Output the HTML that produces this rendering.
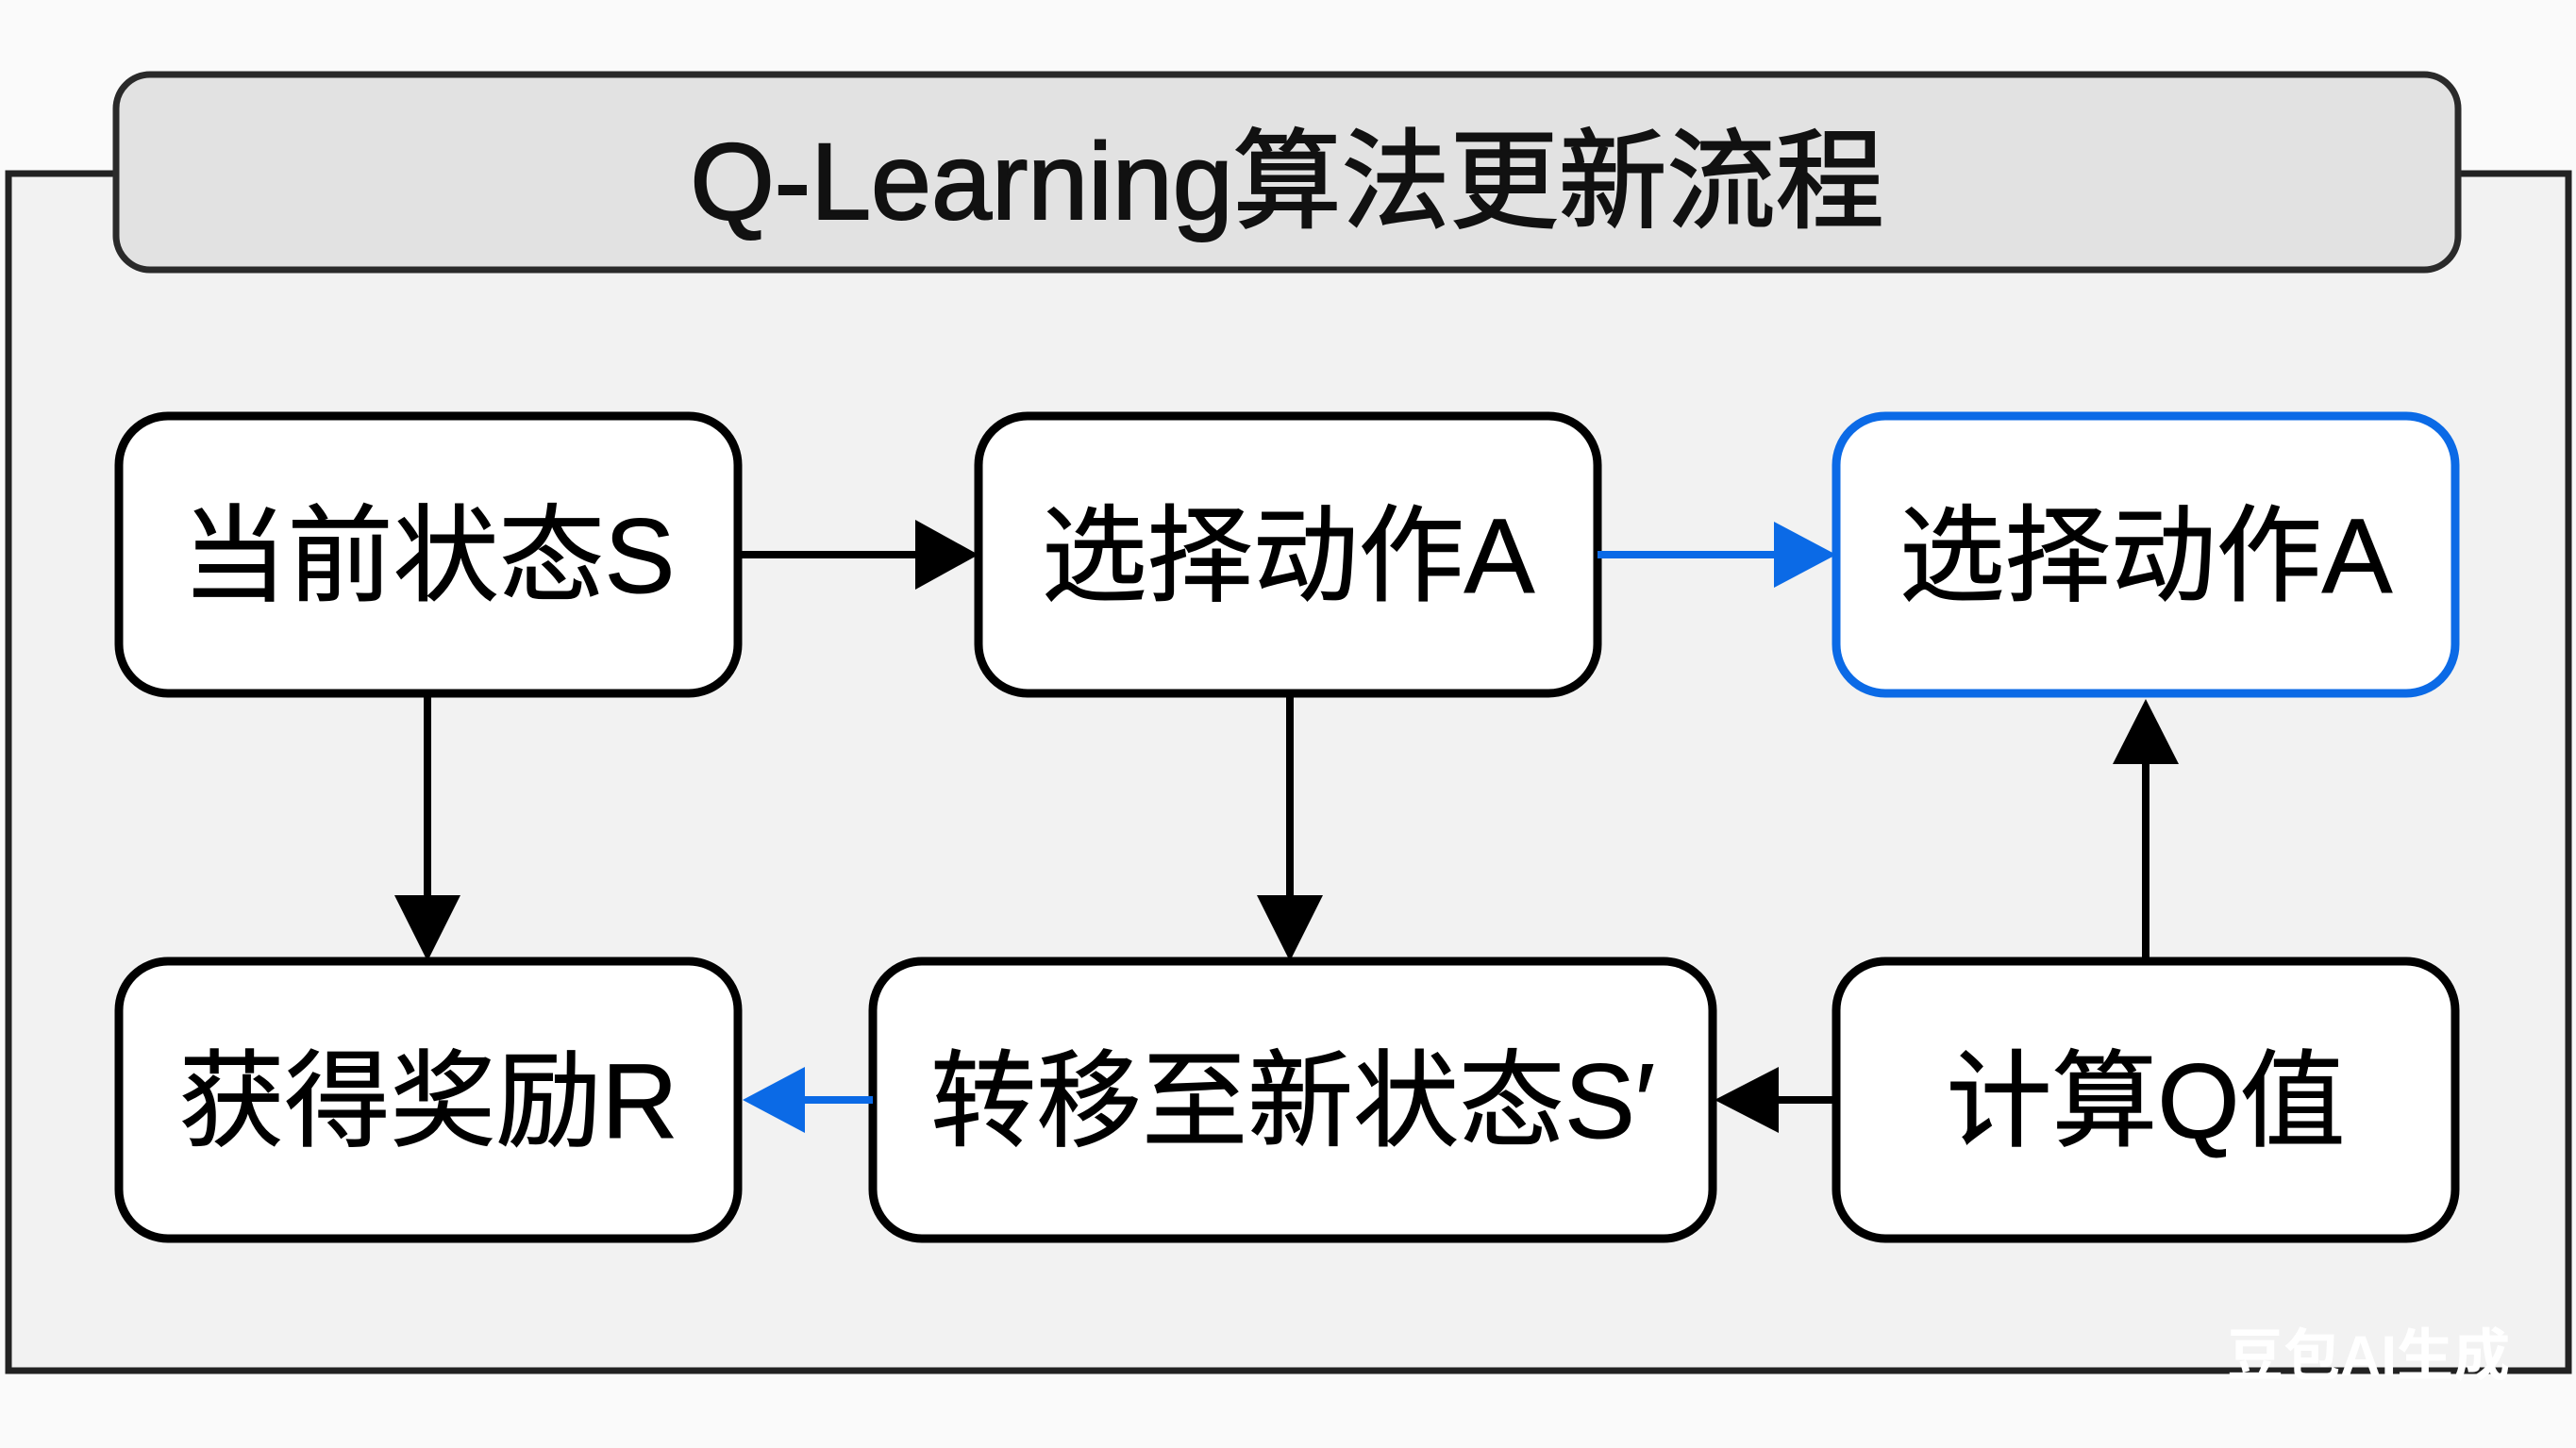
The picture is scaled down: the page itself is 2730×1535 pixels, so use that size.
<!DOCTYPE html>
<html><head><meta charset="utf-8"><style>
html,body{margin:0;padding:0;background:#fafafa;}
svg{display:block;}
text{font-family:"Liberation Sans","Noto Sans CJK SC",sans-serif;}
</style></head><body>
<svg width="2730" height="1535" viewBox="0 0 2730 1535" xmlns="http://www.w3.org/2000/svg">
<rect x="0" y="0" width="2730" height="1535" fill="#fafafa"/>
<rect x="9" y="184" width="2713" height="1269" fill="#f2f2f2" stroke="#222" stroke-width="7"/>
<rect x="123" y="79" width="2482" height="207" rx="36" fill="#e2e2e2" stroke="#2a2a2a" stroke-width="7"/>
<text x="1364" y="232" font-size="115" text-anchor="middle" fill="#111" stroke="#111" stroke-width="2">Q-Learning算法更新流程</text>

<g fill="#fff" stroke="#000" stroke-width="9">
<rect x="126" y="441" width="656" height="294" rx="52"/>
<rect x="1037" y="441" width="656" height="294" rx="52"/>
<rect x="126" y="1019" width="656" height="294" rx="52"/>
<rect x="925" y="1019" width="890" height="294" rx="52"/>
<rect x="1946" y="1019" width="656" height="294" rx="52"/>
</g>
<rect x="1946" y="441" width="656" height="294" rx="52" fill="#fff" stroke="#0b6ae6" stroke-width="9"/>

<g font-size="112" text-anchor="middle" fill="#000" stroke="#000" stroke-width="1">
<text x="454" y="628">当前状态S</text>
<text x="1365" y="628">选择动作A</text>
<text x="2274" y="628">选择动作A</text>
<text x="454" y="1206">获得奖励R</text>
<text x="1370" y="1206">转移至新状态S′</text>
<text x="2274" y="1206">计算Q值</text>
</g>

<g stroke="#000" stroke-width="8" fill="none">
<line x1="782" y1="588" x2="975" y2="588"/>
<line x1="453" y1="735" x2="453" y2="955"/>
<line x1="1367" y1="735" x2="1367" y2="955"/>
<line x1="2274" y1="1019" x2="2274" y2="805"/>
<line x1="1946" y1="1166" x2="1880" y2="1166"/>
</g>
<g stroke="#0b6ae6" stroke-width="8">
<line x1="1693" y1="588" x2="1885" y2="588"/>
<line x1="925" y1="1166" x2="850" y2="1166"/>
</g>
<g fill="#000">
<polygon points="970,551 1037,588 970,625"/>
<polygon points="418,949 488,949 453,1019"/>
<polygon points="1332,949 1402,949 1367,1019"/>
<polygon points="2239,810 2309,810 2274,741"/>
<polygon points="1885,1131 1885,1201 1817,1166"/>
</g>
<g fill="#0b6ae6">
<polygon points="1880,553 1946,588 1880,623"/>
<polygon points="853,1131 853,1201 787,1166"/>
</g>
<text x="2510" y="1458" font-size="60" font-weight="bold" text-anchor="middle" fill="#fff" font-family="'Noto Sans CJK SC',sans-serif">豆包AI生成</text>
</svg>
</body></html>
